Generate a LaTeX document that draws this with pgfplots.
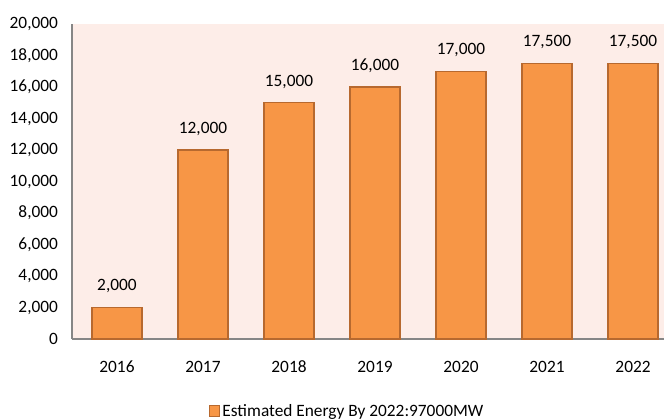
\documentclass[border=0pt]{standalone}
\usepackage{pgfplots}
\pgfplotsset{compat=1.18}
\usepackage{fontspec}
\setmainfont{Carlito}
\definecolor{bgpink}{HTML}{FDEDE8}
\definecolor{barorange}{HTML}{F79646}
\definecolor{baredge}{HTML}{B7692F}
\definecolor{axisgrey}{HTML}{868686}
\begin{document}
\begin{tikzpicture}
\begin{axis}[
  at={(0,0)}, anchor=south west,
  scale only axis,
  width=444pt, height=236.25pt,
  xmin=-0.523, xmax=6.36,
  ymin=0, ymax=20000,
  ytick={0,2000,...,20000},
  xtick={0,...,6},
  xticklabels={2016,2017,2018,2019,2020,2021,2022},
  axis x line*=bottom, axis y line*=left,
  axis line style={axisgrey, line width=1pt},
  x axis line style={-}, y axis line style={-},
  major tick length=0pt,
  axis background/.style={fill=bgpink},
  font=\fontsize{13}{15}\selectfont,
  tick label style={font=\fontsize{13}{15}\selectfont},
  /pgf/number format/assume math mode=true,
  /pgf/number format/1000 sep={,},
  yticklabel style={xshift=-7pt},
  xticklabel style={yshift=-13pt},
  scaled y ticks=false,
  legend style={at={(0.465,-0.2286)}, anchor=center, draw=none, fill=none,
    font=\fontsize{13}{15}\selectfont, inner sep=0pt},
  legend image code/.code={\draw[#1, fill=barorange, draw=baredge, line width=0.8pt] (0pt,-3.8pt) rectangle (7.6pt,3.8pt);},
  legend cell align=left,
  nodes near coords,
  every node near coord/.append style={font=\fontsize{13}{15}\selectfont, yshift=7pt,
    /pgf/number format/assume math mode=true, /pgf/number format/1000 sep={,}},
]
\addplot[ybar, bar width=37.5pt, fill=barorange, draw=baredge, line width=1pt]
  coordinates {(0,2000) (1,12000) (2,15000) (3,16000) (4,17000) (5,17500) (6,17500)};
\addlegendentry{Estimated Energy By 2022:97000MW}
\end{axis}
\pgfresetboundingbox
\path[use as bounding box] (-54pt,-60pt) rectangle (444pt,254.25pt);
\end{tikzpicture}
\end{document}
